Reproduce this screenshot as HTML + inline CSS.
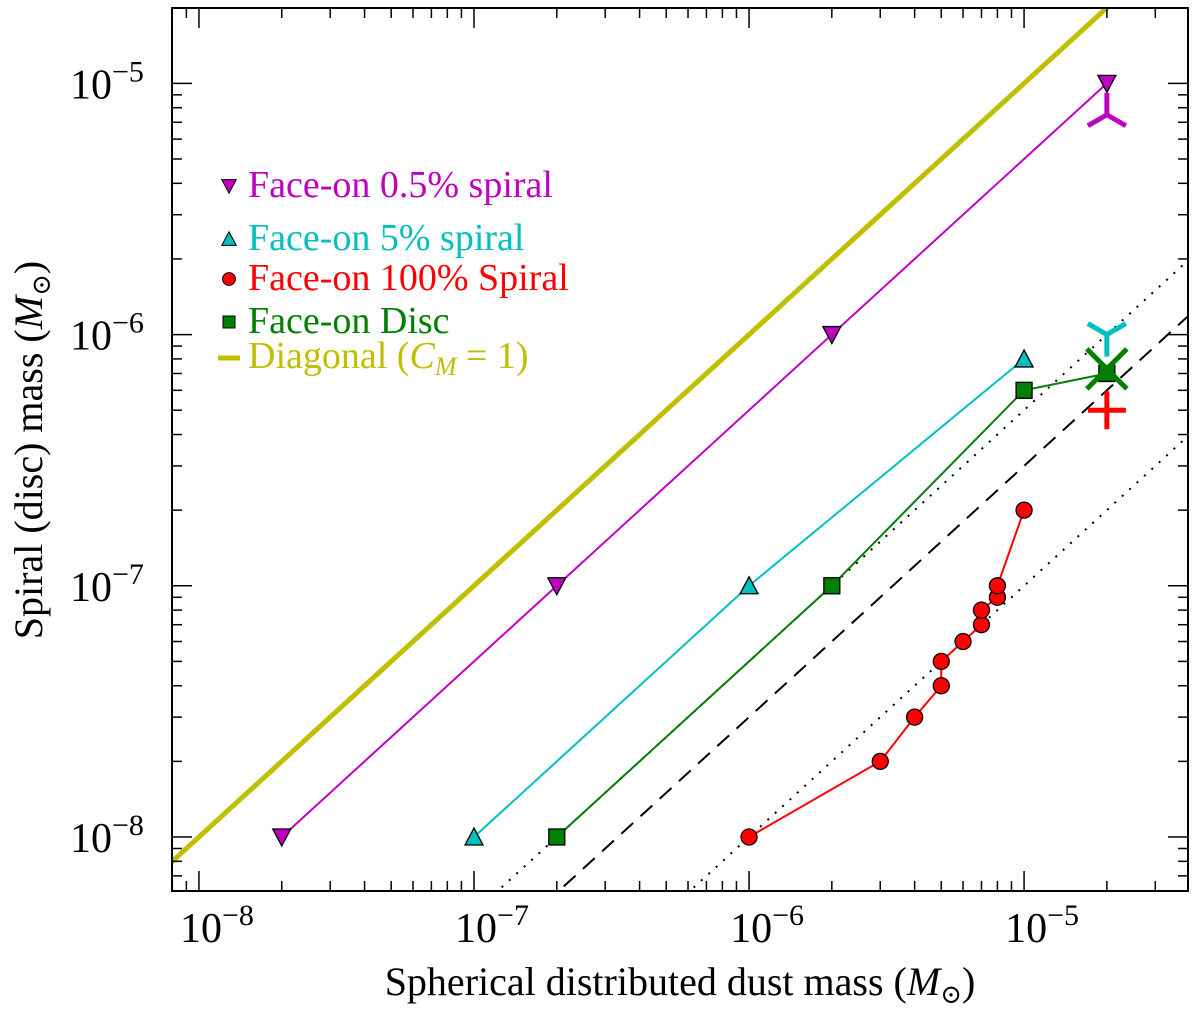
<!DOCTYPE html>
<html><head><meta charset="utf-8"><style>
html,body{margin:0;background:#fff;overflow:hidden;width:1200px;height:1017px;}
svg{display:block;}
text{font-family:"Liberation Serif","DejaVu Serif",serif;}
</style></head><body>
<svg id="chart" width="1200" height="1017" font-family="Liberation Serif, DejaVu Serif, serif"></svg>
<script>
const magX=[2e-8,2e-7,2e-6,2e-5], magY=[1e-8,1e-7,1e-6,1e-5];
const cyanX=[1e-7,1e-6,1e-5], cyanY=[1e-8,1e-7,8e-7];
const greenX=[2e-7,2e-6,1e-5,2e-5], greenY=[1e-8,1e-7,6e-7,7e-7];
const redX=[1e-6,3e-6,4e-6,5e-6,5e-6,6e-6,7e-6,7e-6,8e-6,8e-6,1e-5];
const redY=[1e-8,2e-8,3e-8,4e-8,5e-8,6e-8,7e-8,8e-8,9e-8,1e-7,2e-7];
const refRatios=[0.05,0.03,0.01];
const refStyles=["dot","dash","dot"];
const extraX=[2e-5,2e-5,2e-5,2e-5];
const extraY=[7.5e-6,1e-6,7.3e-7,5e-7];
const xTickExp=[-8,-7,-6,-5];
const yTickExp=[-8,-7,-6,-5];
const legendLabels=["Face-on 0.5% spiral","Face-on 5% spiral","Face-on 100% Spiral","Face-on Disc"];

const L=172,R=1188,T=8,B=891;
const xmin=-8.098,xmax=-4.404,ymin=-8.215,ymax=-4.70;
const sx=v=>L+(Math.log10(v)-xmin)/(xmax-xmin)*(R-L);
const sy=v=>B-(Math.log10(v)-ymin)/(ymax-ymin)*(B-T);
const svg=document.getElementById('chart');
const NS='http://www.w3.org/2000/svg';
const FF='Liberation Serif, DejaVu Serif, serif';
function el(tag,attrs,parent){const e=document.createElementNS(NS,tag);for(const k in attrs)e.setAttribute(k,attrs[k]);if(tag=='text')e.setAttribute('font-family',FF);(parent||svg).appendChild(e);return e;}

const defs=el('defs',{});
const cp=el('clipPath',{id:'clip'},defs);
el('rect',{x:L,y:T,width:R-L,height:B-T},cp);
const plot=el('g',{'clip-path':'url(#clip)'});



const dg=el('line',{x1:sx(1e-9),y1:sy(1e-9),x2:sx(1e-4),y2:sy(1e-4),stroke:'#bfbf00','stroke-width':5},plot);


refRatios.forEach((r,i)=>{
  const ln=el('line',{x1:sx(1e-8),y1:sy(1e-8*r),x2:sx(1e-4),y2:sy(1e-4*r),stroke:'#000','stroke-width':2,
   'stroke-dasharray':refStyles[i]=='dot'?'2 8':'16 10'},plot);
  
  
});

function series(xs,ys,color,name){
  const pts=xs.map((x,i)=>sx(x)+','+sy(ys[i])).join(' ');
  const p=el('polyline',{points:pts,fill:'none',stroke:color,'stroke-width':2},plot);
  
  
}
function marker(type,x,y,color,name,g){
  let m;
  if(type=='tdown') m=el('polygon',{points:`${x-9},${y-8} ${x+9},${y-8} ${x},${y+9}`,fill:color,stroke:'#000','stroke-width':1.3},g||plot);
  else if(type=='tup') m=el('polygon',{points:`${x-9},${y+8} ${x+9},${y+8} ${x},${y-9}`,fill:color,stroke:'#000','stroke-width':1.3},g||plot);
  else if(type=='circ') m=el('circle',{cx:x,cy:y,r:8,fill:color,stroke:'#000','stroke-width':1.3},g||plot);
  else m=el('rect',{x:x-8,y:y-8,width:16,height:16,fill:color,stroke:'#000','stroke-width':1.3},g||plot);
  
  
}
series(magX,magY,'#bf00bf','magenta-series');
series(cyanX,cyanY,'#00bfbf','cyan-series');
series(greenX,greenY,'#007f00','green-series');
series(redX,redY,'#ff0000','red-series');
magX.forEach((x,i)=>marker('tdown',sx(x),sy(magY[i]),'#bf00bf','magenta-point'));
cyanX.forEach((x,i)=>marker('tup',sx(x),sy(cyanY[i]),'#00bfbf','cyan-point'));
greenX.forEach((x,i)=>marker('sq',sx(x),sy(greenY[i]),'#007f00','green-point'));
redX.forEach((x,i)=>marker('circ',sx(x),sy(redY[i]),'#ff0000','red-point'));

function stroke(d,color,name){const p=el('path',{d,stroke:color,'stroke-width':5,fill:'none'},plot);}
let cx=sx(extraX[0]),cy=sy(extraY[0]);
stroke(`M${cx},${cy} V${cy-22} M${cx},${cy} L${cx-19},${cy+11} M${cx},${cy} L${cx+19},${cy+11}`,'#bf00bf','magenta-tri-marker');
cx=sx(extraX[1]);cy=sy(extraY[1]);
stroke(`M${cx},${cy} V${cy+22} M${cx},${cy} L${cx-19},${cy-11} M${cx},${cy} L${cx+19},${cy-11}`,'#00bfbf','cyan-tri-marker');
cx=sx(extraX[2]);cy=sy(extraY[2]);
stroke(`M${cx-20},${cy-20} L${cx+20},${cy+20} M${cx-20},${cy+20} L${cx+20},${cy-20}`,'#007f00','green-x-marker');
cx=sx(extraX[3]);cy=sy(extraY[3]);
stroke(`M${cx-19},${cy} H${cx+19} M${cx},${cy-19} V${cy+19}`,'#ff0000','red-plus-marker');

const fr=el('rect',{x:L,y:T,width:R-L,height:B-T,fill:'none',stroke:'#000','stroke-width':2});


const tg=el('g',{stroke:'#000','stroke-width':1.5});


for(let e=-9;e<=-4;e++)for(let k=1;k<10;k++){
  const v=k*Math.pow(10,e);const len=k==1?20:10;
  const x=sx(v);if(x>=L&&x<=R){el('line',{x1:x,y1:B,x2:x,y2:B-len},tg);el('line',{x1:x,y1:T,x2:x,y2:T+len},tg);}
  const y=sy(v);if(y>=T&&y<=B){el('line',{x1:L,y1:y,x2:L+len,y2:y},tg);el('line',{x1:R,y1:y,x2:R-len,y2:y},tg);}
}
xTickExp.forEach(e=>{
  const t=el('text',{x:sx(Math.pow(10,e))+18,y:942,'font-size':42,'text-anchor':'middle'});
  
  
  t.innerHTML=`10<tspan dy="-17" font-size="30">−${-e}</tspan>`;
});
yTickExp.forEach(e=>{
  const t=el('text',{x:70,y:sy(Math.pow(10,e))+15,'font-size':42});
  
  
  t.innerHTML=`10<tspan dy="-17" font-size="30">−${-e}</tspan>`;
});
const xt=el('text',{x:680,y:995,'font-size':40,'text-anchor':'middle'});


xt.innerHTML='Spherical distributed dust mass (<tspan font-style="italic">M</tspan><tspan font-size="26" dy="8">⊙</tspan><tspan dy="-8">)</tspan>';
const yt=el('text',{x:0,y:0,'font-size':40,'text-anchor':'middle',transform:'translate(42,450) rotate(-90)'});


yt.innerHTML='Spiral (disc) mass (<tspan font-style="italic">M</tspan><tspan font-size="26" dy="8">⊙</tspan><tspan dy="-8">)</tspan>';

const lg=el('g',{});


const lc=['#bf00bf','#00bfbf','#ff0000','#007f00'];
const lt=['tdown','tup','circ','sq'];
const lyB=[197,250,290,333];
legendLabels.forEach((s,i)=>{
  const g=el('g',{},lg);
  
  
  const sc=i==3?0.75:0.8;
  const gg=el('g',{transform:`translate(229,${lyB[i]-11}) scale(${sc})`},g);
  marker(lt[i],0,0,lc[i],'legend-marker',gg);
  const t=el('text',{x:248,y:lyB[i],'font-size':38,fill:lc[i]},g);
  t.textContent=s;
});
const g5=el('g',{},lg);


el('line',{x1:218,x2:240,y1:358,y2:358,stroke:'#bfbf00','stroke-width':5},g5);
const t5=el('text',{x:248,y:368,'font-size':38,fill:'#bfbf00'},g5);
t5.innerHTML='Diagonal (<tspan font-style="italic">C</tspan><tspan font-style="italic" font-size="26" dy="7">M</tspan><tspan dy="-7"> = 1)</tspan>';
</script>
</body></html>
